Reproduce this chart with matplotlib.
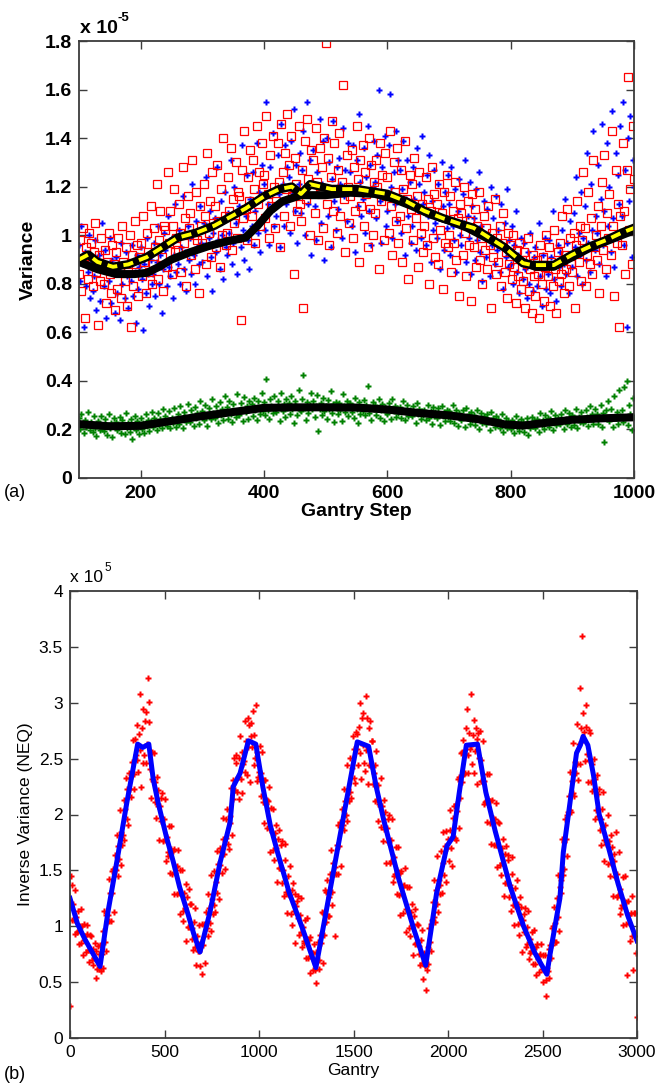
import numpy as np
import matplotlib
matplotlib.use("Agg")
import matplotlib.pyplot as plt

plt.rcParams['font.family'] = ['Liberation Sans', 'DejaVu Sans']

# ---------------- (a) variance vs gantry step (units of 1e-5) ----------------
steps_a = np.arange(100, 1001, 2)

# blue dots, x100
var_blue = [
    96, 81, 104, 88, 62, 93, 79, 85, 100, 74,
    90, 77, 83, 98, 69, 86, 92, 73, 88, 105,
    79, 94, 66, 87, 81, 99, 72, 90, 84, 68,
    91, 76, 86, 65, 97, 80, 88, 74, 93, 83,
    70, 89, 81, 96, 75, 85, 64, 92, 78, 87,
    95, 82, 61, 88, 76, 99, 84, 71, 90, 80,
    84, 97, 75, 89, 104, 80, 92, 68, 86, 101,
    94, 79, 108, 87, 83, 99, 74, 92, 113, 85,
    88, 102, 80, 95, 116, 86, 93, 77, 104, 90,
    99, 84, 121, 92, 80, 106, 95, 88, 112, 97,
    89, 105, 96, 124, 83, 99, 110, 91, 77, 101,
    107, 93, 128, 98, 86, 114, 100, 82, 118, 95,
    92, 109, 101, 131, 88, 97, 120, 105, 84, 99,
    112, 95, 137, 102, 90, 108, 125, 98, 86, 115,
    104, 126, 96, 110, 138, 101, 118, 93, 129, 107,
    121, 102, 155, 113, 96, 128, 110, 142, 104, 119,
    108, 133, 117, 95, 146, 121, 104, 137, 113, 128,
    124, 101, 139, 118, 152, 110, 129, 97, 121, 134,
    109, 127, 143, 100, 118, 155, 113, 131, 92, 122,
    135, 112, 98, 126, 117, 148, 105, 121, 139, 90,
    119, 140, 108, 130, 95, 123, 147, 114, 102, 128,
    111, 132, 121, 99, 144, 116, 127, 106, 138, 118,
    126, 104, 137, 119, 93, 131, 112, 150, 122, 108,
    115, 136, 101, 124, 145, 110, 129, 96, 120, 139,
    122, 107, 133, 160, 114, 97, 128, 118, 141, 104,
    110, 137, 158, 120, 99, 126, 113, 143, 106, 131,
    127, 101, 119, 139, 92, 115, 131, 108, 122, 97,
    104, 128, 115, 94, 136, 110, 121, 99, 141, 113,
    118, 96, 125, 108, 133, 89, 114, 102, 127, 105,
    99, 121, 107, 86, 130, 112, 94, 118, 103, 125,
    113, 92, 128, 104, 98, 119, 85, 110, 123, 100,
    96, 117, 105, 131, 89, 108, 99, 122, 84, 112,
    107, 90, 119, 98, 126, 93, 104, 81, 114, 100,
    91, 111, 99, 83, 120, 96, 107, 88, 116, 94,
    102, 85, 113, 96, 78, 105, 91, 119, 87, 98,
    88, 104, 80, 96, 110, 85, 92, 76, 99, 90,
    82, 97, 86, 74, 93, 80, 101, 88, 77, 91,
    95, 79, 88, 105, 83, 71, 92, 86, 99, 78,
    84, 98, 76, 91, 110, 82, 89, 73, 96, 87,
    93, 79, 102, 88, 115, 84, 97, 76, 106, 92,
    87, 109, 95, 124, 83, 101, 92, 118, 80, 99,
    112, 90, 134, 97, 85, 121, 102, 143, 94, 108,
    101, 129, 88, 115, 146, 96, 110, 83, 138, 104,
    120, 93, 151, 107, 87, 134, 99, 125, 113, 145,
    108, 155, 96, 127, 62, 140, 114, 149, 91, 131,
    120,
]

# red squares, x100
var_red = [
    84, 98, 77, 103, 90, 66, 95, 82, 101, 88,
    97, 79, 93, 105, 85, 63, 92, 81, 99, 87,
    80, 94, 72, 89, 101, 84, 76, 96, 88, 69,
    93, 78, 99, 86, 74, 104, 89, 81, 95, 71,
    85, 100, 62, 92, 79, 106, 88, 96, 75, 91,
    97, 83, 108, 89, 76, 101, 93, 85, 112, 80,
    88, 103, 95, 121, 82, 98, 110, 91, 77, 104,
    102, 87, 126, 97, 110, 84, 104, 119, 93, 99,
    94, 113, 101, 85, 128, 97, 107, 79, 116, 103,
    109, 92, 131, 100, 86, 118, 98, 76, 112, 104,
    97, 121, 108, 88, 134, 101, 114, 91, 126, 105,
    112, 95, 129, 106, 87, 119, 100, 140, 108, 96,
    101, 124, 110, 136, 94, 115, 105, 130, 99, 118,
    116, 65, 127, 107, 143, 111, 98, 124, 114, 135,
    108, 131, 119, 97, 145, 113, 126, 104, 138, 121,
    125, 107, 149, 117, 99, 133, 112, 141, 120, 103,
    114, 138, 122, 95, 146, 126, 108, 134, 119, 150,
    129, 104, 141, 116, 84, 132, 121, 110, 145, 113,
    106, 127, 70, 139, 115, 148, 123, 100, 135, 118,
    131, 109, 144, 122, 98, 136, 117, 128, 103, 140,
    179, 113, 132, 96, 124, 147, 110, 138, 119, 101,
    127, 142, 108, 122, 162, 115, 93, 133, 120, 105,
    116, 135, 99, 128, 110, 145, 123, 89, 131, 112,
    137, 104, 126, 117, 95, 140, 111, 129, 100, 122,
    109, 131, 120, 86, 138, 114, 125, 98, 134, 116,
    124, 101, 143, 112, 92, 130, 118, 106, 136, 97,
    108, 127, 89, 119, 139, 103, 115, 82, 125, 111,
    121, 98, 132, 107, 116, 87, 126, 101, 113, 93,
    104, 124, 96, 115, 80, 110, 128, 99, 117, 91,
    113, 88, 121, 102, 109, 78, 118, 97, 125, 95,
    100, 116, 85, 110, 97, 122, 90, 107, 75, 113,
    109, 92, 120, 101, 83, 114, 96, 106, 73, 117,
    95, 111, 87, 104, 118, 90, 99, 80, 108, 94,
    103, 86, 112, 96, 70, 101, 91, 115, 84, 99,
    89, 104, 79, 97, 109, 85, 93, 74, 101, 88,
    96, 82, 100, 87, 72, 94, 83, 97, 78, 90,
    81, 93, 70, 88, 99, 77, 86, 68, 92, 83,
    75, 90, 84, 66, 96, 80, 91, 73, 87, 100,
    83, 95, 71, 89, 79, 102, 86, 68, 93, 81,
    97, 84, 108, 76, 92, 86, 111, 79, 99, 88,
    85, 101, 70, 96, 114, 89, 104, 81, 98, 126,
    103, 79, 92, 118, 88, 107, 84, 131, 95, 100,
    90, 112, 76, 104, 122, 94, 133, 86, 109, 99,
    117, 92, 143, 104, 75, 127, 97, 113, 62, 108,
    96, 138, 110, 84, 127, 165, 102, 119, 88, 145,
    123,
]

# green dots, x1000
var_green = [
    246, 201, 263, 218, 185, 238, 209, 272, 224, 196,
    231, 189, 254, 207, 171, 236, 219, 198, 257, 203,
    193, 241, 216, 179, 262, 205, 227, 168, 248, 211,
    232, 198, 210, 253, 186, 239, 219, 183, 266, 204,
    228, 190, 244, 162, 211, 257, 199, 236, 214, 181,
    249, 203, 226, 187, 262, 216, 240, 194, 233, 271,
    211, 247, 229, 196, 268, 220, 243, 204, 284, 233,
    257, 215, 239, 274, 205, 248, 226, 289, 237, 212,
    263, 224, 297, 241, 208, 272, 250, 229, 305, 244,
    231, 282, 256, 213, 291, 247, 269, 222, 318, 258,
    276, 237, 300, 252, 216, 289, 262, 241, 325, 266,
    248, 295, 270, 226, 312, 259, 283, 237, 339, 272,
    291, 245, 319, 264, 229, 305, 277, 250, 346, 268,
    258, 309, 282, 236, 333, 271, 296, 244, 318, 285,
    303, 254, 331, 279, 240, 316, 289, 262, 352, 275,
    312, 261, 408, 280, 244, 327, 295, 268, 339, 283,
    271, 318, 292, 235, 349, 277, 304, 253, 326, 288,
    307, 263, 338, 285, 226, 319, 296, 258, 364, 279,
    274, 327, 423, 289, 240, 312, 268, 301, 351, 283,
    316, 252, 297, 340, 193, 283, 309, 261, 329, 276,
    298, 244, 321, 286, 357, 267, 303, 231, 314, 290,
    265, 310, 282, 236, 344, 295, 270, 318, 255, 301,
    308, 271, 297, 249, 331, 284, 226, 311, 262, 292,
    277, 322, 258, 300, 378, 269, 293, 240, 315, 285,
    301, 259, 288, 325, 247, 279, 306, 233, 291, 270,
    263, 309, 281, 241, 326, 274, 296, 250, 287, 268,
    292, 248, 280, 317, 239, 273, 301, 255, 282, 262,
    254, 297, 271, 228, 308, 262, 285, 243, 276, 259,
    281, 239, 268, 302, 247, 276, 224, 292, 257, 270,
    249, 287, 261, 219, 296, 255, 273, 233, 281, 252,
    274, 236, 263, 301, 228, 259, 282, 214, 268, 247,
    238, 279, 252, 209, 287, 246, 264, 222, 271, 240,
    259, 218, 247, 281, 201, 243, 266, 228, 254, 235,
    221, 262, 238, 196, 273, 230, 249, 211, 257, 226,
    243, 204, 232, 262, 189, 223, 247, 207, 236, 216,
    203, 238, 221, 184, 256, 212, 230, 195, 242, 209,
    229, 191, 218, 247, 176, 224, 205, 251, 213, 238,
    206, 244, 227, 190, 266, 219, 237, 201, 258, 231,
    249, 212, 241, 277, 198, 236, 258, 217, 247, 225,
    221, 264, 237, 203, 281, 242, 223, 269, 246, 212,
    258, 219, 247, 286, 205, 251, 232, 273, 240, 226,
    236, 279, 251, 214, 297, 244, 263, 221, 284, 247,
    262, 224, 251, 302, 209, 268, 147, 279, 241, 318,
    233, 286, 252, 211, 339, 248, 270, 224, 361, 256,
    281, 230, 374, 246, 398, 217, 301, 262, 196, 329,
    253,
]

# running means
mean_blue_x = [100, 130, 160, 190, 210, 230, 250, 280, 310, 340, 370, 390, 410, 430,
               460, 500, 540, 580, 610, 640, 670, 700, 730, 760, 790, 820, 840, 870,
               900, 930, 960, 1000]
mean_blue = [0.89, 0.86, 0.84, 0.84, 0.845, 0.87, 0.90, 0.93, 0.955, 0.975, 0.99, 1.04,
             1.10, 1.14, 1.165, 1.165, 1.175, 1.17, 1.15, 1.12, 1.085, 1.06, 1.03, 0.99,
             0.95, 0.89, 0.87, 0.87, 0.91, 0.95, 0.98, 1.02]
mean_red_x = [100, 115, 130, 155, 180, 210, 235, 260, 290, 320, 345, 370, 400, 425, 445,
              460, 475, 510, 550, 600, 630, 660, 690, 720, 740, 765, 790, 820, 835, 870,
              900, 930, 955, 980, 1000]
mean_red = [0.90, 0.92, 0.89, 0.87, 0.88, 0.91, 0.95, 0.99, 1.01, 1.04, 1.075, 1.11, 1.16,
            1.19, 1.20, 1.17, 1.21, 1.19, 1.19, 1.17, 1.14, 1.10, 1.07, 1.045, 1.03, 0.99,
            0.95, 0.885, 0.877, 0.877, 0.92, 0.955, 0.98, 1.01, 1.03]
mean_green_x = [100, 150, 200, 250, 300, 350, 400, 450, 500, 550, 600, 650, 700, 750, 790,
                820, 860, 900, 950, 1000]
mean_green = [0.222, 0.213, 0.215, 0.235, 0.255, 0.272, 0.289, 0.291, 0.291, 0.290, 0.282,
              0.268, 0.258, 0.241, 0.221, 0.216, 0.228, 0.240, 0.246, 0.250]

# ---------------- (b) inverse variance vs gantry (units of 1e5) ----------------
gantry_b = np.arange(0, 3001, 4)

# red points, x100
neq = [
    29, 145, 137, 106, 120, 106, 132, 93, 108, 95,
    96, 114, 84, 100, 115, 85, 100, 74, 102, 88,
    91, 77, 93, 101, 79, 68, 92, 79, 91, 70,
    65, 80, 72, 85, 54, 78, 62, 82, 62, 75,
    83, 60, 75, 63, 96, 114, 86, 78, 110, 104,
    110, 142, 105, 130, 105, 149, 130, 151, 113, 151,
    164, 150, 182, 145, 172, 160, 204, 155, 184, 173,
    182, 213, 177, 205, 233, 196, 223, 191, 237, 223,
    233, 216, 247, 267, 236, 223, 268, 253, 280, 249,
    238, 272, 258, 308, 225, 277, 246, 294, 253, 284,
    292, 246, 263, 322, 283, 301, 241, 215, 256, 232,
    230, 255, 211, 229, 197, 234, 208, 222, 177, 208,
    215, 194, 219, 176, 196, 177, 214, 158, 180, 163,
    166, 190, 148, 169, 190, 147, 167, 129, 169, 148,
    153, 129, 154, 168, 130, 111, 150, 129, 150, 114,
    105, 130, 116, 138, 87, 126, 99, 133, 99, 120,
    120, 89, 98, 79, 104, 116, 81, 65, 91, 78,
    78, 101, 64, 86, 57, 102, 83, 102, 67, 101,
    113, 98, 129, 91, 116, 103, 146, 96, 124, 111,
    119, 149, 113, 140, 167, 130, 156, 124, 170, 155,
    166, 148, 178, 197, 165, 151, 196, 179, 205, 174,
    169, 199, 192, 224, 182, 231, 214, 251, 222, 246,
    253, 220, 234, 214, 251, 270, 232, 219, 256, 245,
    248, 284, 238, 266, 235, 286, 260, 280, 229, 270,
    282, 260, 293, 244, 271, 251, 298, 230, 256, 234,
    238, 261, 217, 237, 256, 211, 231, 192, 231, 209,
    213, 188, 212, 225, 187, 166, 206, 184, 205, 168,
    159, 183, 170, 191, 140, 178, 152, 186, 152, 173,
    176, 139, 150, 127, 159, 174, 131, 112, 145, 129,
    128, 154, 111, 132, 101, 139, 114, 129, 85, 118,
    123, 107, 127, 92, 110, 95, 125, 81, 99, 85,
    87, 106, 72, 89, 107, 72, 88, 58, 90, 73,
    76, 61, 76, 84, 61, 49, 77, 69, 86, 70,
    62, 92, 85, 113, 67, 112, 92, 132, 104, 131,
    141, 109, 126, 109, 147, 168, 131, 119, 157, 147,
    153, 91, 147, 173, 147, 191, 172, 193, 154, 192,
    205, 191, 223, 186, 212, 200, 244, 194, 223, 212,
    220, 251, 215, 242, 270, 233, 259, 228, 274, 259,
    272, 244, 278, 300, 255, 232, 286, 262, 291, 246,
    239, 306, 258, 286, 227, 277, 244, 284, 243, 266,
    266, 227, 237, 212, 244, 257, 213, 194, 226, 209,
    208, 233, 189, 208, 176, 213, 187, 202, 157, 188,
    196, 175, 200, 157, 177, 158, 196, 140, 162, 145,
    147, 171, 129, 150, 171, 128, 148, 110, 149, 129,
    136, 112, 137, 152, 115, 95, 135, 114, 135, 98,
    91, 113, 101, 120, 74, 109, 84, 115, 85, 102,
    101, 75, 82, 65, 88, 97, 67, 53, 76, 64,
    65, 43, 61, 81, 66, 98, 86, 102, 78, 106,
    122, 108, 141, 104, 132, 120, 163, 113, 141, 129,
    137, 167, 130, 157, 184, 146, 172, 140, 185, 170,
    178, 158, 186, 204, 170, 154, 197, 180, 208, 179,
    177, 209, 203, 232, 188, 234, 215, 255, 229, 256,
    267, 236, 254, 237, 277, 294, 253, 237, 273, 259,
    261, 308, 245, 271, 237, 285, 257, 277, 227, 268,
    273, 251, 275, 230, 249, 230, 266, 209, 230, 211,
    212, 236, 193, 214, 236, 192, 212, 174, 213, 192,
    197, 173, 196, 210, 173, 153, 193, 171, 192, 155,
    146, 170, 157, 178, 127, 165, 139, 172, 139, 159,
    164, 126, 137, 114, 147, 162, 119, 101, 134, 118,
    118, 141, 102, 120, 92, 126, 103, 117, 77, 106,
    111, 95, 116, 81, 99, 84, 114, 71, 89, 76,
    78, 95, 66, 81, 97, 66, 81, 56, 84, 71,
    73, 59, 75, 84, 62, 50, 74, 61, 74, 52,
    38, 63, 60, 80, 54, 83, 72, 98, 83, 100,
    117, 86, 103, 86, 125, 146, 108, 96, 135, 130,
    141, 178, 146, 175, 151, 196, 178, 200, 163, 202,
    217, 204, 238, 202, 230, 219, 264, 217, 247, 237,
    245, 281, 231, 263, 313, 245, 277, 360, 291, 267,
    274, 248, 278, 298, 254, 229, 276, 249, 273, 229,
    221, 245, 230, 250, 196, 232, 204, 235, 199, 218,
    223, 186, 196, 173, 205, 220, 177, 158, 191, 174,
    174, 200, 156, 176, 145, 182, 157, 171, 127, 158,
    165, 144, 184, 126, 147, 128, 166, 111, 133, 116,
    119, 144, 101, 123, 145, 102, 122, 56, 123, 103,
    110, 87, 112, 127, 91, 61, 112, 91, 112, 76,
    19,
]

# fitted curve
fit_x = [0, 40, 80, 120, 159, 200, 250, 300, 358, 385, 417, 440, 467, 510, 546, 580, 626,
         655, 688, 741, 794, 847, 864, 900, 944, 983, 1020, 1060, 1100, 1160, 1230, 1301,
         1421, 1520, 1580, 1620, 1660, 1740, 1820, 1882, 1940, 1995, 2027, 2060, 2097,
         2156, 2200, 2250, 2330, 2400, 2460, 2523, 2540, 2592, 2610, 2645, 2680, 2700,
         2715, 2740, 2770, 2800, 2850, 2900, 2950, 3000]
fit_y = [1.25, 1.02, 0.88, 0.76, 0.64, 1.12, 1.60, 2.10, 2.63, 2.60, 2.63, 2.32, 2.10,
         1.80, 1.58, 1.35, 1.10, 0.93, 0.77, 1.13, 1.57, 1.93, 2.25, 2.37, 2.66, 2.63,
         2.25, 1.90, 1.65, 1.30, 0.98, 0.63, 1.74, 2.65, 2.61, 2.25, 1.95, 1.42, 0.97,
         0.65, 1.30, 1.72, 1.80, 2.20, 2.62, 2.63, 2.20, 1.85, 1.35, 1.00, 0.76, 0.57,
         0.75, 1.25, 1.66, 2.10, 2.55, 2.62, 2.70, 2.62, 2.35, 2.00, 1.70, 1.38, 1.10,
         0.87]

W, H = 669, 1085
fig = plt.figure(figsize=(W / 100, H / 100), dpi=100)
spine_col = '#3c3c3c'


def style_axes(ax, size, weight):
    ax.tick_params(direction='in', top=True, right=True, length=6, width=1,
                   color=spine_col, labelsize=size, pad=5)
    for s in ax.spines.values():
        s.set_color(spine_col)
        s.set_linewidth(1.3)
    for lab in ax.get_xticklabels() + ax.get_yticklabels():
        lab.set_fontweight(weight)


# ---- top panel
ax1 = fig.add_axes([79 / W, 1 - 478 / H, 555 / W, 437 / H])
ax1.plot(steps_a, np.array(var_blue) / 100, ls='none', marker='P', ms=4.4,
         color='#0000ff', mec='none')
ax1.plot(steps_a, np.array(var_red) / 100, ls='none', marker='s', ms=6.2,
         mfc='none', mec='#ff0000', mew=0.9)
ax1.plot(steps_a, np.array(var_green) / 1000, ls='none', marker='P', ms=4.4,
         color='#008000', mec='none')
ax1.plot(mean_blue_x, mean_blue, color='k', lw=5.8, solid_joinstyle='round')
ax1.plot(mean_green_x, mean_green, color='k', lw=5.8, solid_joinstyle='round')
ax1.plot(mean_red_x, mean_red, color='k', lw=6.2, solid_joinstyle='round')
ax1.plot(mean_red_x, mean_red, color='#ffff00', lw=2.8, ls=(0, (2.6, 1.6)))
ax1.set_xlim(100, 1000)
ax1.set_ylim(0, 1.8)
ax1.set_xticks([200, 400, 600, 800, 1000])
ax1.set_yticks(np.arange(0, 1.81, 0.2))
ax1.set_yticklabels(['0', '0.2', '0.4', '0.6', '0.8', '1', '1.2', '1.4', '1.6', '1.8'])
style_axes(ax1, 14, 'bold')
ax1.set_ylabel('Variance', fontsize=14, fontweight='bold', labelpad=6)
ax1.set_xlabel('Gantry Step', fontsize=14, fontweight='bold', labelpad=1)
fig.text(80 / W, 1 - 33 / H, 'x 10', fontsize=14, fontweight='bold', va='baseline')
fig.text(118 / W, 1 - 21 / H, '-5', fontsize=9.5, fontweight='bold', va='baseline')
fig.text(4 / W, 1 - 497 / H, '(a)', fontsize=13, va='baseline')

# ---- bottom panel
ax2 = fig.add_axes([70 / W, 1 - 1038 / H, 567 / W, 447 / H])
ax2.plot(gantry_b, np.array(neq) / 100, ls='none', marker='P', ms=5.0,
         color='#ff0000', mec='none')
ax2.plot(fit_x, fit_y, color='#0000ff', lw=3.6, solid_joinstyle='round')
ax2.set_xlim(0, 3000)
ax2.set_ylim(0, 4)
ax2.set_xticks(np.arange(0, 3001, 500))
ax2.set_yticks(np.arange(0, 4.01, 0.5))
ax2.set_yticklabels(['0', '0.5', '1', '1.5', '2', '2.5', '3', '3.5', '4'])
style_axes(ax2, 12.5, 'normal')
ax2.set_ylabel('Inverse Variance (NEQ)', fontsize=12.5, labelpad=4)
ax2.set_xlabel('Gantry', fontsize=12.5, labelpad=2)
fig.text(70 / W, 1 - 582 / H, 'x 10', fontsize=12.5, va='baseline')
fig.text(104 / W, 1 - 571 / H, '5', fontsize=8.5, va='baseline')
fig.text(4 / W, 1 - 1079 / H, '(b)', fontsize=13, va='baseline')

fig.savefig('out.png', dpi=100)
